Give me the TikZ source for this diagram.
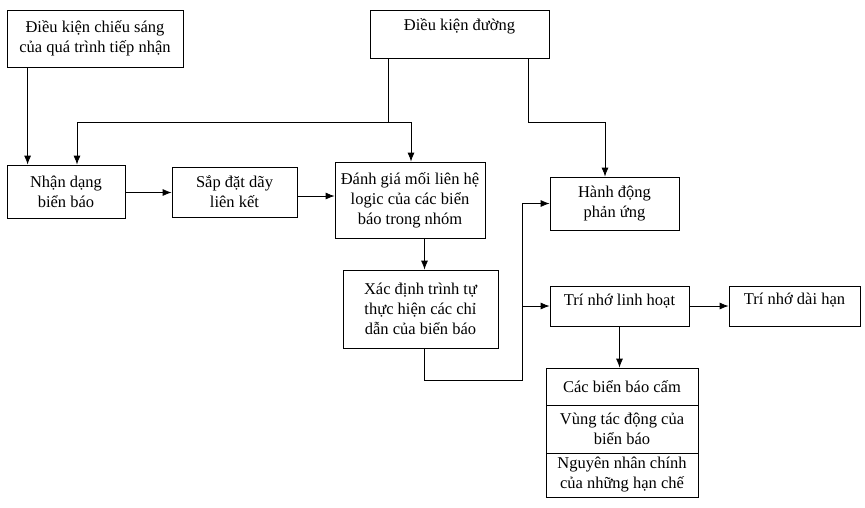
\documentclass[tikz,border=0pt]{standalone}
\usepackage{fontspec}
\setmainfont{Liberation Serif}
\usetikzlibrary{arrows.meta}

\tikzset{
  box/.style={draw, line width=0.8pt, align=center, inner sep=1pt,
    font=\fontsize{16.5}{20}\selectfont},
  topbox/.style={box, text depth=#1},
  arr/.style={-{Latex[length=9pt,width=7pt]}, line width=0.8pt}
}

\begin{document}
\begin{tikzpicture}[x=1pt,y=-1pt]
\useasboundingbox (0,0) rectangle (865,507);

% top row
\node[box, minimum width=176pt, minimum height=57pt] (light) at (95,38.5) {Điều kiện chiếu sáng\\của quá trình tiếp nhận};
\node[topbox=19pt, minimum width=179pt, minimum height=48pt] (road) at (459.5,34) {Điều kiện đường};

% middle row
\node[box, minimum width=118pt, minimum height=53pt] (recog) at (66,191.5) {Nhận dạng\\biển báo};
\node[box, minimum width=125pt, minimum height=50pt] (order) at (234.5,192) {Sắp đặt dãy\\liên kết};
\node[box, minimum width=150pt, minimum height=76pt] (judge) at (410,200) {Đánh giá mối liên hệ\\logic của các biển\\báo trong nhóm};
\node[box, minimum width=155pt, minimum height=78pt] (seq) at (420.5,309) {Xác định trình tự\\thực hiện các chỉ\\dẫn của biển báo};
\node[box, minimum width=129pt, minimum height=53pt] (react) at (614.5,203.5) {Hành động\\phản ứng};
\node[topbox=12pt, minimum width=139pt, minimum height=40pt] (flex) at (619.5,306) {Trí nhớ linh hoạt};
\node[topbox=14pt, minimum width=131pt, minimum height=40pt] (long) at (794.5,306) {Trí nhớ dài hạn};

% stacked box
\node[box, minimum width=152pt, minimum height=37pt] (ban) at (622,386.5) {Các biển báo cấm};
\node[box, minimum width=152pt, minimum height=48pt] (zone) at (622,429) {Vùng tác động của\\biển báo};
\node[box, minimum width=152pt, minimum height=44pt] (cause) at (622,475) {Nguyên nhân chính\\của những hạn chế};

\coordinate (jl) at (77,122);
\coordinate (jr) at (411,122);
\coordinate (rr) at (605,122);
\coordinate (bend) at (522,380);

\draw[arr] ([xshift=21pt]light.south west) -- ([xshift=21pt]recog.north west);
\draw[line width=0.8pt] (jl) -- (jr);
\draw[line width=0.8pt] ([xshift=19pt]road.south west) -- ([xshift=19pt]road.south west |- jl);
\draw[arr] (jl) -- (jl |- recog.north);
\draw[arr] (jr) -- (jr |- judge.north);
\draw[arr] ([xshift=-21pt]road.south east) |- (rr) -- (rr |- react.north);

\draw[arr] ([yshift=-1pt]recog.east) -- ([yshift=-1pt]recog.east -| order.west);
\draw[arr] ([yshift=-4pt]order.east) -- ([yshift=-4pt]order.east -| judge.west);
\draw[arr] ([xshift=4pt]seq.north |- judge.south) -- ([xshift=4pt]seq.north);
\draw[arr] ([xshift=4pt]seq.south) |- (bend) |- (react.west);
\draw[arr] (bend |- flex.west) -- (flex.west);
\draw[arr] (flex.east) -- (long.west);
\draw[arr] (flex.south) -- (flex.south |- ban.north);
\end{tikzpicture}
\end{document}
